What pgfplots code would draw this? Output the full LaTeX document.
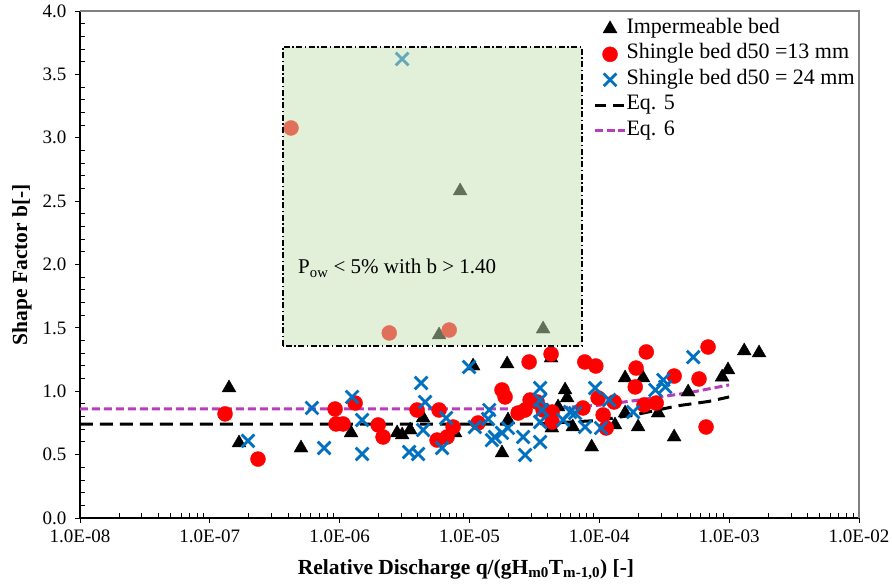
\documentclass[border=0pt]{standalone}
\usepackage{fontspec}
\setmainfont{Liberation Serif}
\usepackage{pgfplots}
\pgfplotsset{compat=1.18}
\usepackage{pgfplotstable}
\definecolor{xblue}{HTML}{0070C0}
\definecolor{eqsix}{HTML}{B83DBA}
\definecolor{boxgreen}{HTML}{C5E0B4}

\pgfplotstableread{
x y
1.406e-7 1.026
1.679e-7 0.592
5.04e-7 0.552
1.224e-6 0.671
2.77e-6 0.671
3.03e-6 0.655
3.49e-6 0.694
4.39e-6 0.789
7.74e-6 0.671
1.066e-5 1.199
1.95e-5 1.215
4.25e-5 1.262
1.98e-5 0.773
1.78e-5 0.513
5.45e-5 1.010
5.65e-5 0.947
4.81e-5 0.876
6.25e-5 0.718
4.31e-5 0.710
8.73e-5 0.560
1.58e-4 1.105
2.17e-4 1.105
1.58e-4 0.828
1.32e-4 0.734
1.99e-4 0.718
2.84e-4 0.828
3.77e-4 0.639
4.83e-4 0.994
8.83e-4 1.112
9.8e-4 1.168
1.306e-3 1.318
1.70e-3 1.302
8.47e-6 2.580
5.83e-6 1.444
3.69e-5 1.491
}\impermeable

\pgfplotstableread{
x y
1.31e-7 0.821
2.35e-7 0.465
9.22e-7 0.860
9.38e-7 0.742
1.062e-6 0.742
1.315e-6 0.907
1.98e-6 0.734
2.16e-6 0.639
3.95e-6 0.852
5.83e-6 0.852
7.48e-6 0.718
5.63e-6 0.615
6.72e-6 0.639
1.165e-5 0.750
1.78e-5 1.010
1.88e-5 0.955
2.88e-5 1.231
4.25e-5 1.294
2.37e-5 0.828
2.68e-5 0.852
2.93e-5 0.931
3.32e-5 0.915
3.69e-5 0.852
4.33e-5 0.836
4.33e-5 0.757
7.73e-5 1.231
9.40e-5 1.199
2.30e-4 1.310
1.92e-4 1.183
1.89e-4 1.034
3.77e-4 1.120
9.79e-5 0.947
1.30e-4 0.915
2.21e-4 0.892
2.74e-4 0.907
7.48e-5 0.868
1.07e-4 0.813
1.13e-4 0.710
6.88e-4 1.349
5.86e-4 1.097
6.64e-4 0.718
4.22e-7 3.077
2.41e-6 1.460
6.98e-6 1.483
}\shingleA

\pgfplotstableread{
x y
1.97e-7 0.608
6.12e-7 0.868
7.59e-7 0.552
1.246e-6 0.955
1.49e-6 0.773
1.49e-6 0.505
4.24e-6 1.065
4.55e-6 0.915
4.39e-6 0.694
3.43e-6 0.521
4.02e-6 0.505
6.61e-6 0.789
6.15e-6 0.552
9.93e-6 1.191
1.10e-5 0.718
1.42e-5 0.852
1.39e-5 0.781
1.57e-5 0.639
1.49e-5 0.615
1.78e-5 0.671
1.98e-5 0.710
3.50e-5 1.026
3.50e-5 0.931
3.63e-5 0.852
3.50e-5 0.757
2.59e-5 0.639
3.50e-5 0.600
2.68e-5 0.497
5.26e-5 0.773
5.96e-5 0.836
9.29e-5 1.026
1.19e-4 0.931
2.70e-4 1.010
3.11e-4 1.089
3.22e-4 1.034
1.82e-4 0.836
6.50e-5 0.828
7.76e-5 0.718
1.03e-4 0.710
5.29e-4 1.270
3.03e-6 3.621
}\shingleB

\begin{document}
\begin{tikzpicture}
\path[use as bounding box] (-80pt,-70pt) rectangle (812pt,518pt);
\begin{axis}[
  at={(0pt,0pt)}, anchor=south west,
  scale only axis, width=779pt, height=507pt,
  xmode=log, xmin=1e-8, xmax=1e-2, ymin=0, ymax=4,
  axis x line*=bottom, axis y line*=left,
  xtick={1e-8,1e-7,1e-6,1e-5,1e-4,1e-3,1e-2},
  xticklabels={1.0E-08,1.0E-07,1.0E-06,1.0E-05,1.0E-04,1.0E-03,1.0E-02},
  minor xtick={2e-8,3e-8,4e-8,5e-8,6e-8,7e-8,8e-8,9e-8,
               2e-7,3e-7,4e-7,5e-7,6e-7,7e-7,8e-7,9e-7,
               2e-6,3e-6,4e-6,5e-6,6e-6,7e-6,8e-6,9e-6,
               2e-5,3e-5,4e-5,5e-5,6e-5,7e-5,8e-5,9e-5,
               2e-4,3e-4,4e-4,5e-4,6e-4,7e-4,8e-4,9e-4,
               2e-3,3e-3,4e-3,5e-3,6e-3,7e-3,8e-3,9e-3},
  ytick={0,0.5,1,1.5,2,2.5,3,3.5,4},
  minor y tick num=4,
  tick align=inside,
  major tick length=-5pt,
  minor tick length=5pt,
  tick style={black, line width=0.9pt},
  axis line style={black, line width=1.3pt},
  tick label style={font=\fontsize{19}{22}\selectfont},
  yticklabel style={/pgf/number format/.cd, fixed, fixed zerofill, precision=1, assume math mode=true, /tikz/.cd, xshift=-10pt},
  xticklabel style={anchor=north, yshift=-8.5pt},
  xlabel={Relative Discharge q/(gH\textsubscript{m0}T\textsubscript{m-1,0}) [-]},
  ylabel={Shape Factor b[-]},
  label style={font=\fontsize{21.5}{24}\selectfont\bfseries},
  xlabel style={at={(axis description cs:0.4955,-0.1026)}, anchor=center},
  ylabel style={at={(axis description cs:-0.0745,0.5)}, anchor=center},
  legend style={draw=none, fill=none, at={(axis description cs:0.659,0.984)}, anchor=north west,
    inner sep=0pt, font=\fontsize{22}{24}\selectfont,
    nodes={inner sep=0pt, text height=14pt, text depth=5pt},
    row sep=6.5pt, /tikz/every even column/.append style={column sep=6pt}},
  legend cell align=left,
  legend image code/.code={\draw[mark repeat=2,mark phase=2,#1] plot coordinates {(0pt,0pt)(15pt,0pt)(30pt,0pt)};},
  clip=false,
]
\addplot[forget plot, black, dash pattern=on 13pt off 7pt, line width=3pt] coordinates {
(1e-8,0.74) (3e-5,0.74) (1e-4,0.77) (2e-4,0.82) (4e-4,0.885) (7e-4,0.92) (1e-3,0.955)};
\addplot[forget plot, eqsix, dash pattern=on 8pt off 4pt, line width=3pt] coordinates {
(1e-8,0.86) (2e-5,0.86) (5e-5,0.87) (1e-4,0.89) (2e-4,0.93) (5e-4,0.99) (1e-3,1.05)};
\addplot[only marks, mark=triangle*, mark size=8pt, black] table {\impermeable};
\addplot[only marks, mark=*, mark size=7.5pt, red] table {\shingleA};
\addplot[only marks, mark=x, mark size=9pt, xblue, mark options={line width=2.8pt}] table {\shingleB};
\addlegendimage{black, dash pattern=on 11pt off 7pt, line width=3pt}
\addlegendimage{eqsix, dash pattern=on 8pt off 3.5pt, line width=3pt}
\legend{Impermeable bed, Shingle bed d50 =13 mm, Shingle bed d50 = 24 mm, Eq. 5, Eq. 6}
\coordinate (boxA) at (axis cs:3.66e-7,1.357);
\coordinate (boxB) at (axis cs:7.36e-5,3.716);
\coordinate (boxT) at (axis cs:4.78e-7,1.97);
\draw[gray, line width=1.3pt] (rel axis cs:0,1) -- (rel axis cs:1,1) -- (rel axis cs:1,0);
\end{axis}
\draw[black, line width=1.2pt, dash pattern=on 6pt off 2.5pt on 1.5pt off 2.5pt, fill=boxgreen, fill opacity=0.5]
  (boxA) rectangle (boxB);
\node[anchor=west, font=\fontsize{21}{24}\selectfont, inner sep=0pt] at (boxT)
  {P\textsubscript{ow} < 5\% with b > 1.40};
\end{tikzpicture}
\end{document}
